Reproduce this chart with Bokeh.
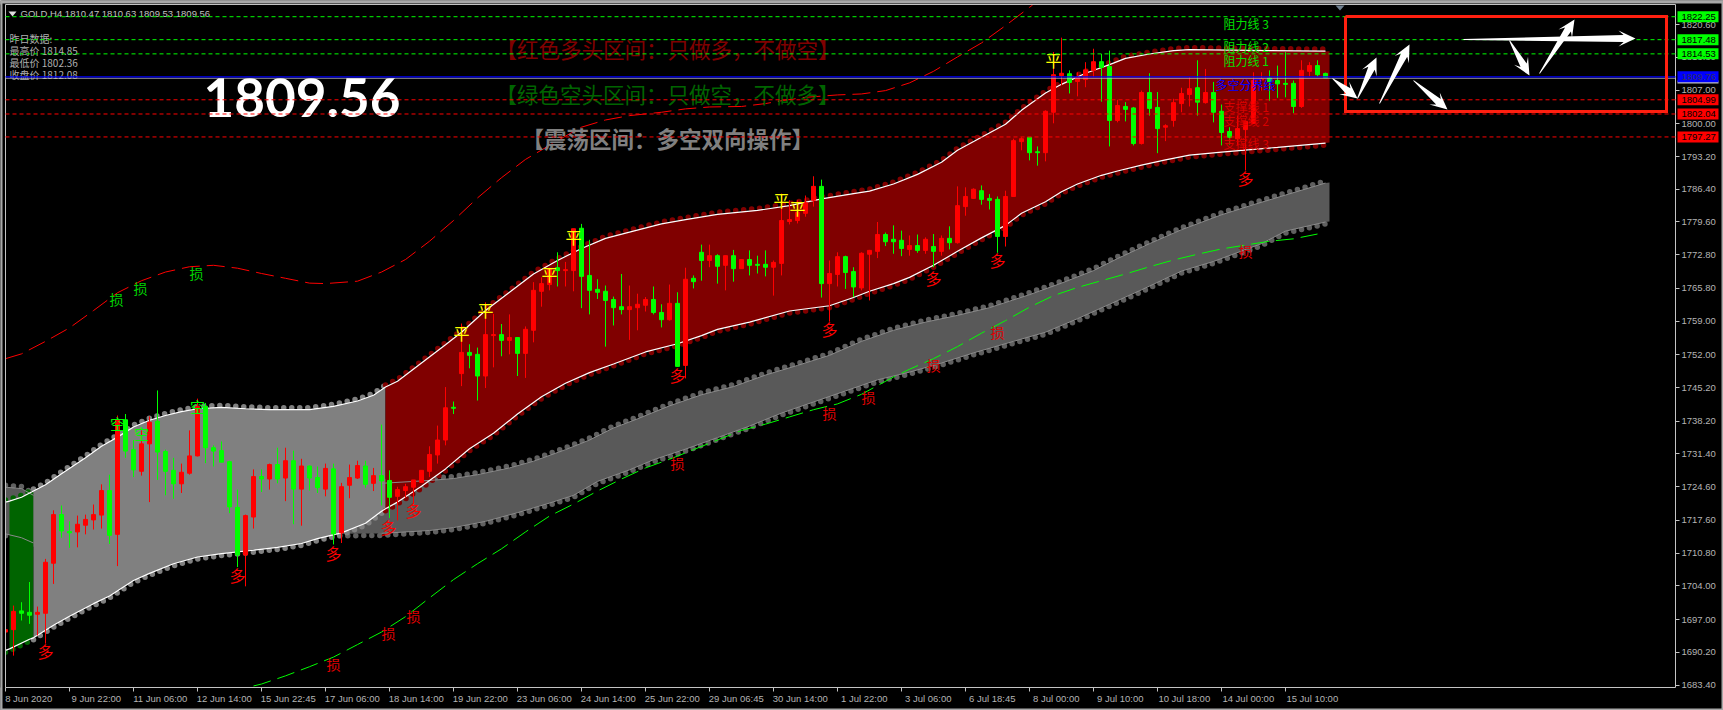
import numpy as np
from bokeh.plotting import figure
from bokeh.models import ColumnDataSource, FixedTicker, LinearAxis
from bokeh.core.properties import value
from bokeh.embed import file_html
from bokeh.resources import INLINE

# ---------- candles (bar index = position in the lists) ----------
directions = ("rrggrrrggr" "rrrgrggrrg" "ggrrrggggg" "rrgrgrgrgg" "rgrrrgrggr"
              "rrrrrrgrgg" "rrgrgrrrrg" "rrggggggrr" "rggrgrggrg" "rgrgggrrrr"
              "rrgrrggrrr" "gggrgrgrgr" "rrgggrrrgg" "rrrgrrrggr" "ggrggrrrrg"
              "rgggrrrrgg" "ggrrgg")
high = [1696.1,1699.9,1700.6,1704.8,1699.7,1709.6,1719.7,1720.7,1717.4,1718.6,
        1718.8,1720.9,1725.1,1727.1,1739.4,1739.7,1734.3,1736.3,1739.2,1744.6,
        1732.3,1730.6,1729.4,1736.3,1742.9,1742.0,1733.2,1734.0,1730.0,1724.0,
        1718.8,1728.2,1728.2,1729.4,1732.7,1732.7,1732.1,1730.4,1729.0,1728.8,
        1729.4,1729.4,1725.4,1729.2,1730.0,1730.0,1728.5,1737.5,1728.0,1724.6,
        1725.2,1726.0,1728.0,1733.0,1737.3,1745.3,1742.3,1758.5,1754.2,1753.5,
        1762.9,1760.5,1758.4,1760.4,1755.7,1757.9,1767.1,1768.1,1770.1,1773.3,
        1771.3,1778.2,1779.2,1775.9,1767.7,1766.4,1764.1,1768.8,1766.4,1764.7,
        1764.0,1766.2,1762.5,1766.6,1765.0,1770.1,1768.5,1774.9,1774.9,1772.9,
        1772.6,1773.8,1771.9,1773.7,1772.6,1773.7,1771.6,1785.5,1784.1,1784.1,
        1785.1,1789.1,1788.4,1771.6,1773.3,1772.6,1770.2,1773.3,1773.8,1779.6,
        1777.4,1778.9,1777.8,1776.8,1777.0,1776.4,1777.1,1776.8,1778.7,1787.0,
        1786.8,1786.6,1787.2,1785.4,1784.9,1786.1,1796.9,1797.2,1797.2,1795.3,
        1802.8,1814.9,1817.9,1811.1,1810.7,1812.8,1815.6,1814.5,1815.2,1805.0,
        1804.5,1803.5,1806.9,1810.5,1806.6,1799.9,1805.2,1807.5,1809.7,1813.2,
        1811.4,1808.7,1804.0,1799.3,1801.7,1800.7,1810.7,1810.7,1811.1,1812.1,
        1814.9,1809.0,1813.2,1812.8,1813.2,1810.63]
body_top = [1694.9,1698.7,1698.8,1698.5,1698.5,1708.9,1718.8,1718.8,1715.3,1716.8,
            1717.8,1718.8,1723.8,1723.8,1738.5,1738.5,1732.3,1733.5,1738.0,1738.2,
            1731.9,1728.0,1727.6,1731.0,1741.3,1741.3,1732.7,1732.1,1729.8,1720.3,
            1718.6,1726.7,1726.7,1729.2,1729.2,1730.0,1730.0,1728.9,1728.9,1726.5,
            1728.4,1728.3,1724.6,1726.5,1729.0,1728.9,1726.9,1726.9,1725.9,1724.0,
            1724.6,1726.0,1728.0,1731.3,1734.3,1741.0,1741.1,1752.5,1752.5,1752.1,
            1756.2,1756.2,1756.2,1755.6,1755.6,1757.3,1765.4,1766.8,1769.9,1770.1,
            1769.7,1778.2,1778.3,1768.5,1765.6,1765.2,1763.5,1762.0,1762.0,1762.5,
            1763.5,1763.5,1760.8,1762.7,1762.7,1767.7,1767.9,1773.3,1772.6,1772.6,
            1772.6,1772.6,1771.8,1771.8,1770.8,1770.8,1771.2,1779.9,1780.1,1781.6,
            1783.6,1787.0,1787.0,1768.9,1772.4,1772.4,1769.3,1773.1,1773.7,1777.0,
            1777.0,1776.0,1775.8,1774.7,1774.7,1776.0,1774.5,1776.2,1776.2,1783.0,
            1784.9,1786.4,1786.1,1784.5,1784.3,1784.9,1796.5,1796.9,1797.2,1794.2,
            1802.6,1810.2,1810.5,1810.4,1809.7,1811.2,1812.9,1812.9,1811.9,1803.8,
            1803.6,1803.3,1806.5,1806.5,1803.4,1799.6,1804.4,1806.3,1807.3,1807.5,
            1806.5,1806.5,1802.6,1798.4,1799.0,1800.5,1809.0,1809.3,1809.5,1809.0,
            1808.4,1808.4,1811.1,1812.1,1812.1,1810.47]
body_bot = [1694.4,1694.9,1698.3,1697.9,1698.1,1698.3,1708.7,1715.4,1715.0,1715.2,
            1716.6,1717.7,1718.7,1714.5,1714.7,1732.0,1728.1,1727.8,1733.5,1731.8,
            1727.8,1725.2,1725.2,1727.4,1731.0,1732.7,1732.0,1729.7,1720.4,1710.4,
            1710.4,1718.3,1726.2,1726.2,1726.2,1726.4,1724.1,1724.1,1726.4,1724.4,
            1724.1,1714.8,1715.0,1724.9,1726.4,1725.1,1725.3,1725.8,1722.4,1722.6,
            1723.8,1724.5,1725.5,1727.8,1731.2,1734.3,1740.9,1748.1,1751.9,1747.6,
            1747.6,1756.0,1755.0,1755.0,1752.3,1752.3,1757.1,1765.2,1766.6,1769.5,
            1769.5,1769.5,1768.3,1765.4,1765.0,1763.3,1761.8,1761.4,1761.4,1761.8,
            1762.3,1760.8,1759.3,1759.3,1749.6,1749.8,1767.2,1771.6,1771.6,1770.4,
            1770.6,1769.9,1769.9,1770.6,1770.6,1770.2,1770.2,1771.0,1779.7,1779.9,
            1781.4,1784.1,1766.8,1766.8,1768.7,1769.1,1766.1,1765.9,1772.9,1773.5,
            1775.5,1775.5,1774.1,1773.9,1773.7,1773.7,1773.5,1773.5,1775.3,1775.3,
            1782.8,1784.5,1784.3,1784.1,1776.6,1776.6,1784.9,1796.3,1794.0,1794.0,
            1794.0,1802.4,1810.0,1808.6,1808.8,1809.2,1811.1,1811.7,1800.7,1800.7,
            1803.0,1795.9,1795.9,1803.2,1799.0,1799.3,1800.7,1804.2,1806.1,1804.5,
            1804.4,1802.4,1798.2,1797.2,1796.9,1798.8,1800.1,1809.1,1808.8,1808.3,
            1808.2,1803.6,1803.6,1810.9,1810.2,1809.56]
low = [1686.4,1689.5,1696.8,1696.1,1693.7,1692.0,1704.4,1714.0,1711.9,1712.0,
       1714.7,1715.7,1715.9,1712.7,1708.1,1730.6,1726.6,1726.9,1721.4,1726.0,
       1722.8,1722.1,1723.3,1727.1,1730.9,1729.5,1728.8,1729.7,1719.1,1707.9,
       1703.9,1715.9,1723.5,1724.0,1725.3,1721.6,1716.8,1716.5,1723.8,1723.3,
       1722.6,1712.6,1712.9,1722.2,1726.2,1724.4,1723.7,1720.7,1718.1,1717.6,
       1722.3,1721.0,1725.5,1726.6,1729.4,1733.2,1739.7,1745.5,1749.2,1742.5,
       1745.1,1749.4,1751.7,1752.1,1747.6,1747.2,1754.6,1762.0,1765.4,1766.2,
       1766.2,1765.2,1761.7,1760.4,1763.6,1753.7,1758.1,1760.4,1755.1,1757.1,
       1761.0,1760.4,1757.7,1759.1,1749.6,1747.1,1765.8,1767.4,1770.2,1766.8,
       1765.4,1767.2,1769.9,1768.5,1768.9,1768.3,1764.3,1768.5,1779.1,1779.3,
       1780.7,1782.8,1763.9,1758.9,1766.2,1765.7,1764.0,1765.4,1763.3,1772.1,
       1774.6,1773.0,1772.5,1772.6,1773.2,1773.0,1770.2,1772.6,1773.9,1775.1,
       1780.9,1784.4,1783.2,1782.2,1773.2,1774.5,1784.9,1794.5,1792.4,1791.3,
       1792.2,1800.1,1808.0,1806.3,1805.7,1807.6,1809.7,1804.6,1795.3,1800.3,
       1800.5,1795.5,1795.7,1801.7,1793.9,1796.4,1799.4,1802.4,1803.6,1801.7,
       1804.2,1800.3,1795.5,1795.7,1795.5,1790.3,1800.0,1806.9,1804.8,1805.4,
       1805.5,1802.2,1803.3,1809.8,1809.8,1809.53]

# ---------- envelope curves ----------
upper_x = [0,.5,2,3.5,5,7,10,12,14,16,18,20,22,24,27,30,33,38,41,44,46,47.5,49,52,55,57,60,63,66,69,
           72,75,78,82,85,89,94,98,102,106,108,111,114,117,119,122,125,127,130,132,135,138,140,143,
           146,148,158,165,165.5]
upper_y = [1721.4,1721.6,1722.4,1723.7,1725.0,1727.3,1730.6,1733.0,1734.9,1737.0,1738.4,1739.4,1740.2,
           1740.8,1741.1,1740.8,1740.6,1740.6,1741.3,1742.4,1743.6,1745.3,1746.5,1750.3,1754.1,1756.7,
           1761.2,1765.0,1768.8,1771.6,1774.1,1776.2,1777.5,1779.2,1780.1,1781.2,1782.0,1783.0,1784.4,
           1785.5,1786.0,1787.5,1789.5,1792.0,1794.5,1797.2,1799.9,1802.8,1806.4,1808.2,1810.5,1812.3,
           1813.6,1814.5,1815.2,1815.4,1815.2,1815.1,1815.1]
lower_x = [0,.5,3,3.5,6,8,11,13,16,18,21,24,27,31,34,37,39,42,45,47,47.5,49,52,55,58,61,64,67,70,73,
           76,80,84,87,89,93,98,103,106,108,111,113,116,119,122,125,127,130,132,134,137,139,142,145,
           148,152,156,159,165,165.5]
lower_y = [1690.6,1690.9,1692.9,1693.2,1695.8,1697.7,1700.3,1701.9,1705.1,1706.6,1708.6,1710.0,1710.7,
           1711.4,1712.0,1712.8,1713.8,1715.0,1717.0,1719.5,1720.0,1721.4,1724.7,1728.3,1732.5,1735.7,
           1739.7,1743.3,1746.1,1748.3,1750.1,1752.6,1754.3,1756.0,1757.3,1758.8,1761.1,1762.2,1763.9,
           1765.2,1766.8,1768.1,1770.6,1773.5,1776.3,1778.9,1781.4,1783.8,1785.9,1787.5,1789.3,1790.2,
           1791.4,1792.5,1793.5,1794.1,1794.7,1795.1,1796.0,1796.1]
gray_up_x = [0,2,3.5,20,47,53,56,59,63,66,70,73,76,79,83,87,91,95,99,103,107,111,115,119,123,128,132,
             136,139,143,147,152,156,160,165,165.5]
gray_up_y = [1724.5,1724.2,1722.8,1723.5,1725.3,1725.9,1726.3,1727.1,1728.5,1729.9,1732.3,1734.3,1736.8,
             1738.7,1741.4,1743.7,1745.4,1747.8,1749.8,1751.9,1754.8,1757.1,1758.8,1760.2,1761.8,1764.5,
             1766.9,1769.5,1772.0,1775.1,1778.0,1781.1,1783.2,1785.2,1787.7,1787.8]
gray_lo_x = [0,2,3.5,42,47,53,56,60,64,68,71,74,78,81,85,89,93,97,101,105,109,113,117,121,126,130,134,
             138,142,147,151,157,160,165,165.5]
gray_lo_y = [1714.8,1714.0,1712.9,1714.8,1714.9,1715.5,1716.1,1717.4,1719.2,1721.2,1722.8,1725.7,1728.1,
             1730.2,1732.4,1734.8,1737.2,1739.9,1742.2,1744.5,1746.8,1748.4,1750.3,1752.4,1754.8,1756.7,
             1759.5,1762.5,1765.5,1769.4,1771.4,1775.1,1777.7,1779.6,1779.7]
red_dash_x = [0,2,5,8,11,14,17,20,23,26,29,32,35,38,40,44,47,50,53,56,59,62,65,69,72,75,78,82,85,88,
              92,95,97,100,104,107,110,113,116,119,122,125,128,128.4]
red_dash_y = [1751.2,1752.2,1754.8,1757.6,1761.2,1764.9,1767.4,1769.2,1770.3,1770.6,1770.0,1768.9,1767.9,
              1766.9,1766.8,1767.3,1769.2,1771.8,1775.6,1779.9,1784.6,1788.8,1792.6,1796.5,1799.3,1800.8,
              1801.7,1802.4,1803.1,1803.5,1803.6,1804.2,1804.8,1805.5,1806.0,1806.2,1806.9,1808.5,1810.9,
              1813.9,1816.8,1820.4,1824.2,1824.7]
green_dash_x = [31,32,35,38,41,44,47,50,53,56,59,62,65,68,71,74,77,80,83,86,89,92,95,98,101,104,107,111,
                113,116,119,122,125,128,131,134,137,140,143,146,149,152,158,161,164]
green_dash_y = [1683.2,1683.6,1685.3,1687.2,1689.2,1691.8,1694.4,1697.6,1701.5,1705.3,1708.6,1711.7,1715.2,
                1718.5,1721.0,1723.7,1726.2,1728.5,1730.3,1732.3,1734.3,1736.3,1737.6,1739.1,1740.6,1741.8,
                1743.8,1747.4,1749.0,1751.2,1753.7,1756.5,1759.1,1761.9,1764.3,1766.0,1767.4,1768.8,1770.3,
                1771.7,1772.9,1774.0,1775.6,1776.1,1777.1]

# ---------- levels and labels ----------
resistance = [1822.25, 1817.48, 1814.53]
support = [1804.99, 1802.04, 1797.27]
pivot = 1809.76
bid = 1809.56
price_ticks = [1683.40,1690.20,1697.00,1704.00,1710.80,1717.60,1724.60,1731.40,1738.20,1745.20,1752.00,
               1759.00,1765.80,1772.80,1779.60,1786.40,1793.20,1800.00,1807.00,1813.80,1820.60]
date_labels = ["8 Jun 2020","9 Jun 22:00","11 Jun 06:00","12 Jun 14:00","15 Jun 22:45","17 Jun 06:00",
               "18 Jun 14:00","19 Jun 22:00","23 Jun 06:00","24 Jun 14:00","25 Jun 22:00","29 Jun 06:45",
               "30 Jun 14:00","1 Jul 22:00","3 Jul 06:00","6 Jul 18:45","8 Jul 00:00","9 Jul 10:00",
               "10 Jul 18:00","14 Jul 00:00","15 Jul 10:00"]

# ---------- pixel helpers for the reference layout ----------
W, H = 1723, 710
LEFT, RIGHT, TOP, BOTTOM = 5, 1675, 4, 687
def ix(px):
    return (np.asarray(px, dtype=float) - 5) / 8
def py(y):
    return 1683.4 + (684.5 - np.asarray(y, dtype=float)) / 4.813

# the frame covers the whole window; both axes sit at fixed places inside it
p = figure(width=W, height=H, output_backend="svg", toolbar_location=None,
           x_range=(float(ix(0)), float(ix(W))), y_range=(float(py(H)), float(py(0))),
           x_axis_location=None, y_axis_location=None,
           min_border_left=0, min_border_right=0, min_border_top=0, min_border_bottom=0,
           background_fill_color="#000000", border_fill_color="#000000",
           outline_line_color=None, margin=(0, 0, 0, 0))
p.xgrid.visible = False
p.ygrid.visible = False

AX = "#b4b4b4"
yax = LinearAxis(ticker=FixedTicker(ticks=price_ticks), fixed_location=float(ix(RIGHT)),
                 major_label_overrides={t: f"{t:.2f}" for t in price_ticks},
                 axis_line_color=None, major_tick_line_color="#c4c4c4", major_tick_out=4, major_tick_in=0,
                 minor_tick_line_color=None, major_label_text_color=AX,
                 major_label_text_font="Liberation Sans", major_label_text_font_size="9.5px",
                 major_label_standoff=2)
p.add_layout(yax, "right")

tick_pos = [8*i for i in range(len(date_labels))]
label_pos = [t + (2.9 if i == 0 else 3.35) for i, t in enumerate(tick_pos)]
xax = LinearAxis(ticker=FixedTicker(ticks=label_pos, minor_ticks=tick_pos), fixed_location=float(py(BOTTOM)),
                 major_label_overrides=dict(zip(label_pos, date_labels)),
                 axis_line_color=None, major_tick_line_color=None, major_tick_out=3, major_tick_in=0,
                 minor_tick_line_color="#c4c4c4", minor_tick_out=4, minor_tick_in=0,
                 major_label_text_color=AX, major_label_text_font="Liberation Sans",
                 major_label_text_font_size="9.5px", major_label_standoff=1)
p.add_layout(xax, "below")

ux, uy, lx, ly = map(np.array, (upper_x, upper_y, lower_x, lower_y))
gux, guy, glx, gly = map(np.array, (gray_up_x, gray_up_y, gray_lo_x, gray_lo_y))
DOT = 2 / 4.813   # scallops sit about 2px outside the curve

def dots(x, y, color):
    p.line(x, y, line_color=color, line_width=5.5, line_dash="0 8", line_cap="round")

# dark-grey band
p.patch(np.r_[gux, glx[::-1]], np.r_[guy, gly[::-1]], fill_color="#595959", line_color=None)
dots(gux[gux <= 165], guy[gux <= 165] + DOT, "#606060")
dots(glx[glx <= 165], gly[glx <= 165] - DOT, "#606060")

# main band by zone
zones = [(0, 3.5, "#006400"), (3.5, 47.5, "#808080"), (47.5, 165.5, "#800000")]
for a, b, col in zones:
    mu = (ux >= a) & (ux <= b)
    ml = (lx >= a) & (lx <= b)
    dots(ux[mu], uy[mu] + DOT, col)
    dots(lx[ml], ly[ml] - DOT, col)
    fa = max(a, 0.5)
    mu = (ux >= fa) & (ux <= b)
    ml = (lx >= fa) & (lx <= b)
    p.patch(np.r_[ux[mu], lx[ml][::-1]], np.r_[uy[mu], ly[ml][::-1]], fill_color=col, line_color=None)

# grey band edges seen over the main band
for xs, ys in ((gux, guy), (glx, gly)):
    m = xs <= 3.5
    p.line(xs[m], ys[m], line_color="#8a8a8a", line_width=1)
    m = (xs >= 47) & (xs <= 165)
    p.line(xs[m], ys[m], line_color="#8a8a8a", line_width=1)

# white envelope
m = ux <= 165
p.line(ux[m], uy[m], line_color="#ffffff", line_width=1.2)
m = lx <= 165
p.line(lx[m], ly[m], line_color="#ffffff", line_width=1.2)

# dashed outer curves
p.line(red_dash_x, red_dash_y, line_color="#ff0000", line_width=1, line_dash="18 7")
p.line(green_dash_x, green_dash_y, line_color="#00ff00", line_width=1, line_dash="18 7")

# candles
idx = np.arange(len(high))
colors = ["#ff0000" if c == "r" else "#00ff00" for c in directions]
src = ColumnDataSource(dict(x=idx, h=high, l=low, t=body_top, b=body_bot, c=colors))
p.segment("x", "l", "x", "h", source=src, line_color="c", line_width=1)
p.vbar("x", top="t", bottom="b", width=0.5, source=src, fill_color="c", line_color="c", line_width=1)

CJK = value("Noto Sans CJK SC")
def txt(xpx, ypx, s, color, size, align="center", font=CJK, style="normal", level="glyph"):
    p.text([float(ix(xpx))], [float(py(ypx))], text=[s], text_color=color, text_align=align,
           text_baseline="middle", text_font=font, text_font_size=f"{size}px", text_font_style=style,
           level=level)

# signals
for x, y in [(45,650),(237,574),(333,552),(388,526),(413,509),(677,374),(829,328),(933,277),(997,259),(1245,177)]:
    txt(x, y, "多", "#ff0000", 16)
for x, y in [(333,663),(388,632),(413,615),(677,462),(829,412),(868,396),(933,364),(997,331),(1245,250)]:
    txt(x, y, "损", "#e00000", 14)
for x, y in [(116,298),(140,287),(196,272)]:
    txt(x, y, "损", "#00d000", 14)
for x, y in [(117,423),(141,433),(197,406)]:
    txt(x, y, "空", "#00ff00", 15)
for x, y in [(461,332),(485,309),(549,273),(573,236),(781,199),(797,207),(1053,59)]:
    txt(x, y, "平", "#ffff00", 16)

# level names
for y, s in [(23,"阻力线 3"),(46,"阻力线 2"),(60,"阻力线 1")]:
    txt(1223, y, s, "#00e000", 12, "left")
txt(1215, 84, "多空分界线", "#0000ff", 12, "left")
for y, s in [(106,"支撑线 1"),(120,"支撑线 2"),(143,"支撑线 3")]:
    txt(1223, y, s, "#d80000", 12, "left")

# headline texts
txt(495, 48, "【红色多头区间\uff1a只做多\uff0c不做空】", "#800000", 21.5, "left")
txt(495, 93, "【绿色空头区间\uff1a只做空\uff0c不做多】", "#006400", 21.5, "left")
txt(521, 137, "【震荡区间\uff1a多空双向操作】", "#808080", 22.5, "left", style="bold")
txt(203, 97, "1809.56", "#ffffff", 53, "left", value("Lato"), style="bold")
sans = value("Liberation Sans")
txt(20, 13, "GOLD,H4  1810.47 1810.63 1809.53 1809.56", "#c0c0c0", 9.5, "left", sans)
txt(9, 38, "昨日数据:", "#b0b0b0", 10, "left")
txt(9, 50, "最高价 1814.85", "#b0b0b0", 10, "left")
txt(9, 62, "最低价 1802.36", "#b0b0b0", 10, "left")
txt(9, 74, "收盘价 1812.08", "#b0b0b0", 10, "left")
p.patch(ix([8, 16, 12]), py([11, 11, 16]), fill_color="#e0e0e0", line_color=None)
p.patch(ix([1335, 1344, 1339.5]), py([5, 5, 10]), fill_color="#708090", line_color=None)

# cover what runs past the chart's left edge, then draw the frame
p.quad(left=float(ix(0)), right=float(ix(LEFT)), bottom=float(py(BOTTOM)), top=float(py(TOP)),
       fill_color="#000000", line_color=None, level="guide")
p.line(ix([LEFT, RIGHT, RIGHT, LEFT, LEFT]), py([TOP, TOP, BOTTOM, BOTTOM, TOP]),
       line_color="#c4c4c4", line_width=1, level="guide")

# horizontal levels
def hline(lv, color, width, dash="solid"):
    p.line([float(ix(LEFT)), float(ix(RIGHT))], [lv, lv], line_color=color, line_width=width, line_dash=dash,
           level="annotation")
for lv in resistance:
    hline(lv, "#00ff00", 1, "4 3")
for lv in support:
    hline(lv, "#ff0000", 1, "4 3")
hline(bid - 0.1, "#c0c0c0", 0.8)
hline(pivot, "#0000ff", 1.3)

# red box
p.line(ix([1345, 1666, 1666, 1345, 1345]), py([16, 16, 111, 111, 16]), line_color="#ff2010", line_width=3,
       line_join="miter", level="annotation")

# arrows, tail and tip in pixels of the reference
arrows = [((1332,78),(1357,98)),((1357,98),(1376,57)),((1379,103),(1409,44)),((1413,80),(1447,109)),
          ((1463,39),(1635,38)),((1509,40),(1529,75)),((1539,73),(1574,19))]
for (x0, y0), (x1, y1) in arrows:
    a, b = np.array([x0, y0], float), np.array([x1, y1], float)
    d = (b - a) / np.linalg.norm(b - a)
    n = np.array([-d[1], d[0]])
    L = np.linalg.norm(b - a)
    hl, hw, sw = 17, 8, 3.5
    pts = [a + n*0.4, a + d*(L-hl*0.7) + n*sw, a + d*(L-hl) + n*hw, b,
           a + d*(L-hl) - n*hw, a + d*(L-hl*0.7) - n*sw, a - n*0.4]
    xs = [q[0] for q in pts]
    ys = [q[1] for q in pts]
    p.patch(ix(xs), py(ys), fill_color="#ffffff", line_color=None, level="annotation")

# price tags at the right edge
def box(x0, x1, y0, y1, color):
    p.quad(left=float(ix(x0)), right=float(ix(x1)), bottom=float(py(y1)), top=float(py(y0)),
           fill_color=color, line_color=None, level="annotation")
def tag(lv, bg, fg="#000000"):
    yc = 684.5 - (lv - 1683.4) * 4.813
    box(1677, 1718, yc - 5.5, yc + 5.5, bg)
    txt(1681, yc, f"{lv:.2f}", fg, 9.5, "left", sans, level="annotation")
for lv in resistance:
    tag(lv, "#00ff00")
box(1677, 1718, 80, 83, "#c0c0c0")
tag(pivot, "#0000ff", "#303060")
for lv in support:
    tag(lv, "#ff0000")

# window edge
for x0, x1, y0, y1 in [(0,2,0,710),(0,1723,0,3),(0,1723,708,710),(1721,1723,0,710)]:
    box(x0, x1, y0, y1, "#a8a8a8")

html = file_html(p, INLINE)
open("out.html", "w").write(html)
